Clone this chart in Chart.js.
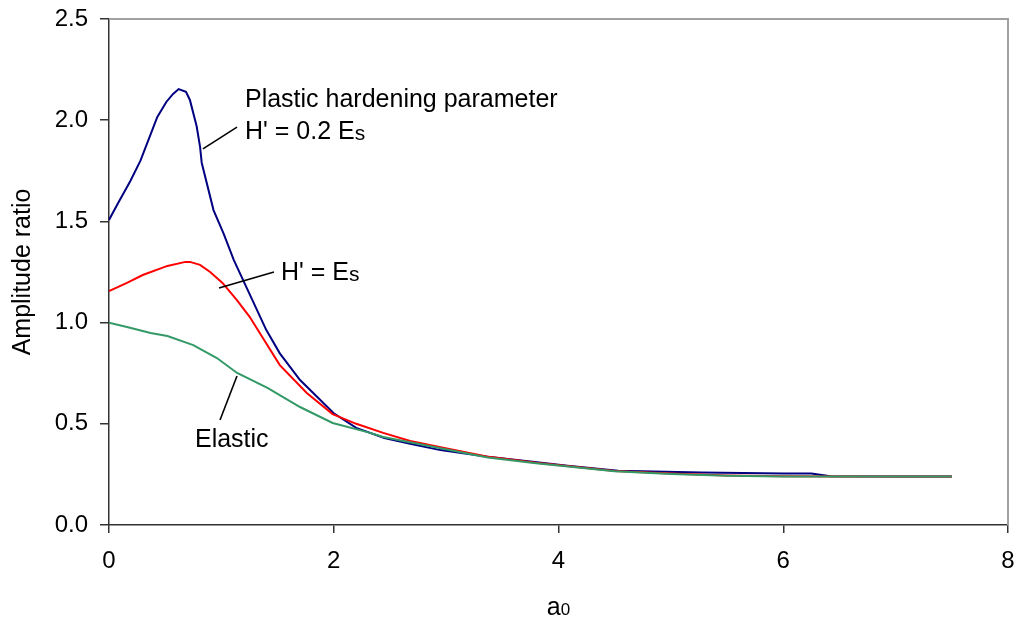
<!DOCTYPE html>
<html>
<head>
<meta charset="utf-8">
<script src="https://cdn.jsdelivr.net/npm/chart.js@4"></script>
<style>
  html, body { margin: 0; padding: 0; background: #fff; }
  #wrap { width: 1017px; height: 618px; }
</style>
</head>
<body>
<div id="wrap"><canvas id="chart"></canvas></div>
<script>
// values (a0 vs amplitude ratio)
const elasticX = [0, 0.16, 0.37, 0.52, 0.75, 0.96, 1.14, 1.41, 1.70, 1.99, 2.30, 2.44, 2.94, 3.37, 3.80, 4.50, 5.00, 5.50, 6.00, 6.50, 7.00, 7.50];
const elasticY = [1.0, 0.978, 0.949, 0.934, 0.889, 0.825, 0.751, 0.677, 0.583, 0.504, 0.459, 0.435, 0.38, 0.334, 0.305, 0.265, 0.252, 0.243, 0.24, 0.24, 0.24, 0.24];

const hEsX = [0, 0.16, 0.30, 0.52, 0.68, 0.72, 0.81, 0.90, 1.01, 1.14, 1.25, 1.52, 1.76, 1.99, 2.20, 2.44, 2.68, 2.94, 3.36, 3.80, 4.50, 5.00, 5.50, 6.00, 6.50, 7.00, 7.50];
const hEsY = [1.156, 1.196, 1.235, 1.28, 1.30, 1.30, 1.285, 1.25, 1.196, 1.11, 1.03, 0.79, 0.652, 0.548, 0.50, 0.455, 0.415, 0.385, 0.338, 0.307, 0.267, 0.254, 0.245, 0.241, 0.24, 0.24, 0.24];

const h02EsX = [0, 0.08, 0.19, 0.28, 0.43, 0.51, 0.57, 0.62, 0.685, 0.72, 0.78, 0.81, 0.825, 0.93, 1.02, 1.11, 1.40, 1.52, 1.70, 2.0, 2.2, 2.45, 2.69, 2.95, 3.37, 3.77, 4.08, 4.53, 5.27, 6.0, 6.25, 6.42, 7.0, 7.5];
const h02EsY = [1.507, 1.59, 1.70, 1.80, 2.016, 2.09, 2.13, 2.154, 2.14, 2.10, 1.97, 1.87, 1.79, 1.556, 1.44, 1.31, 0.963, 0.848, 0.716, 0.552, 0.48, 0.43, 0.40, 0.37, 0.337, 0.313, 0.293, 0.268, 0.26, 0.254, 0.254, 0.241, 0.24, 0.24];

const xTicks = [0, 2, 4, 6, 8];
const yTicks = [0, 0.5, 1.0, 1.5, 2.0, 2.5];

// annotation anchors, in data units
const labels = [
  { x: 1.21, y: 2.065, parts: [["Plastic hardening parameter", 25]] },
  { x: 1.21, y: 1.907, parts: [["H' = 0.2 E", 25], ["s", 21]] },
  { x: 1.53, y: 1.21, parts: [["H' = E", 25], ["s", 21]] },
  { x: 0.765, y: 0.385, parts: [["Elastic", 25]] }
];
const leaders = [
  [0.836, 1.858, 1.139, 1.966],
  [0.979, 1.171, 1.468, 1.25],
  [0.988, 0.519, 1.139, 0.736]
];

const FONT = "'Liberation Sans', Arial, sans-serif";

function pts(xs, ys) {
  return xs.map((x, i) => ({ x: x, y: ys[i] }));
}

const annotate = {
  id: "annotate",
  afterDatasetsDraw(chart) {
    const ctx = chart.ctx;
    const xs = chart.scales.x;
    const ys = chart.scales.y;
    const area = chart.chartArea;
    ctx.save();

    // grey frame on top and right
    ctx.strokeStyle = "#a0a0a0";
    ctx.lineWidth = 2;
    ctx.beginPath();
    ctx.moveTo(area.left, area.top);
    ctx.lineTo(area.right, area.top);
    ctx.lineTo(area.right, area.bottom);
    ctx.stroke();

    ctx.strokeStyle = "#000";
    ctx.lineWidth = 1.6;
    leaders.forEach(l => {
      ctx.beginPath();
      ctx.moveTo(xs.getPixelForValue(l[0]), ys.getPixelForValue(l[1]));
      ctx.lineTo(xs.getPixelForValue(l[2]), ys.getPixelForValue(l[3]));
      ctx.stroke();
    });

    ctx.fillStyle = "#000";
    ctx.textBaseline = "alphabetic";
    ctx.textAlign = "left";
    labels.forEach(lb => {
      let px = xs.getPixelForValue(lb.x);
      const py = ys.getPixelForValue(lb.y);
      lb.parts.forEach(p => {
        ctx.font = p[1] + "px " + FONT;
        ctx.fillText(p[0], px, py + (p[1] < 25 ? 1 : 0));
        px += ctx.measureText(p[0]).width;
      });
    });

    // x axis title a0 with subscript
    ctx.font = "25px " + FONT;
    const wa = ctx.measureText("a").width;
    ctx.font = "17px " + FONT;
    const w0 = ctx.measureText("0").width;
    const cx = (area.left + area.right) / 2;
    const tx = cx - (wa + w0) / 2;
    ctx.font = "25px " + FONT;
    ctx.fillText("a", tx, 615);
    ctx.font = "17px " + FONT;
    ctx.fillText("0", tx + wa, 615);

    ctx.restore();
  }
};

new Chart(document.getElementById("chart"), {
  type: "scatter",
  data: {
    datasets: [
      { label: "Elastic", data: pts(elasticX, elasticY), borderColor: "#339966" },
      { label: "H' = Es", data: pts(hEsX, hEsY), borderColor: "#ff0000" },
      { label: "H' = 0.2 Es", data: pts(h02EsX, h02EsY), borderColor: "#000080" }
    ].map(d => Object.assign(d, {
      showLine: true,
      borderWidth: 2,
      pointRadius: 0,
      pointHoverRadius: 0,
      tension: 0,
      fill: false
    }))
  },
  options: {
    responsive: true,
    maintainAspectRatio: false,
    animation: false,
    layout: { padding: { top: 19, right: 9, left: 0, bottom: 0 } },
    plugins: {
      legend: { display: false },
      tooltip: { enabled: false }
    },
    scales: {
      x: {
        type: "linear",
        min: 0,
        max: 8,
        afterFit: s => {
          s.height = 93;
          s.paddingLeft = 0;
          s.paddingRight = 0;
        },
        afterBuildTicks: s => { s.ticks = xTicks.map(v => ({ value: v })); },
        ticks: {
          color: "#000",
          padding: 14,
          font: { family: FONT, size: 24 },
          callback: v => String(v)
        },
        grid: { drawOnChartArea: false, drawTicks: true, tickLength: 8, color: "#333", lineWidth: 1.5 },
        border: { display: true, color: "#333", width: 1.5 }
      },
      y: {
        min: 0,
        max: 2.5,
        afterFit: s => {
          s.width = 109;
          s.paddingTop = 0;
          s.paddingBottom = 0;
        },
        afterBuildTicks: s => { s.ticks = yTicks.map(v => ({ value: v })); },
        ticks: {
          color: "#000",
          padding: 12,
          font: { family: FONT, size: 24 },
          callback: v => Number(v).toFixed(1)
        },
        grid: { drawOnChartArea: false, drawTicks: true, tickLength: 9, color: "#333", lineWidth: 1.5 },
        border: { display: true, color: "#333", width: 1.5 },
        title: {
          display: true,
          text: "Amplitude ratio",
          color: "#000",
          padding: { top: 8, bottom: 0 },
          font: { family: FONT, size: 25 }
        }
      }
    }
  },
  plugins: [annotate]
});
</script>
</body>
</html>
